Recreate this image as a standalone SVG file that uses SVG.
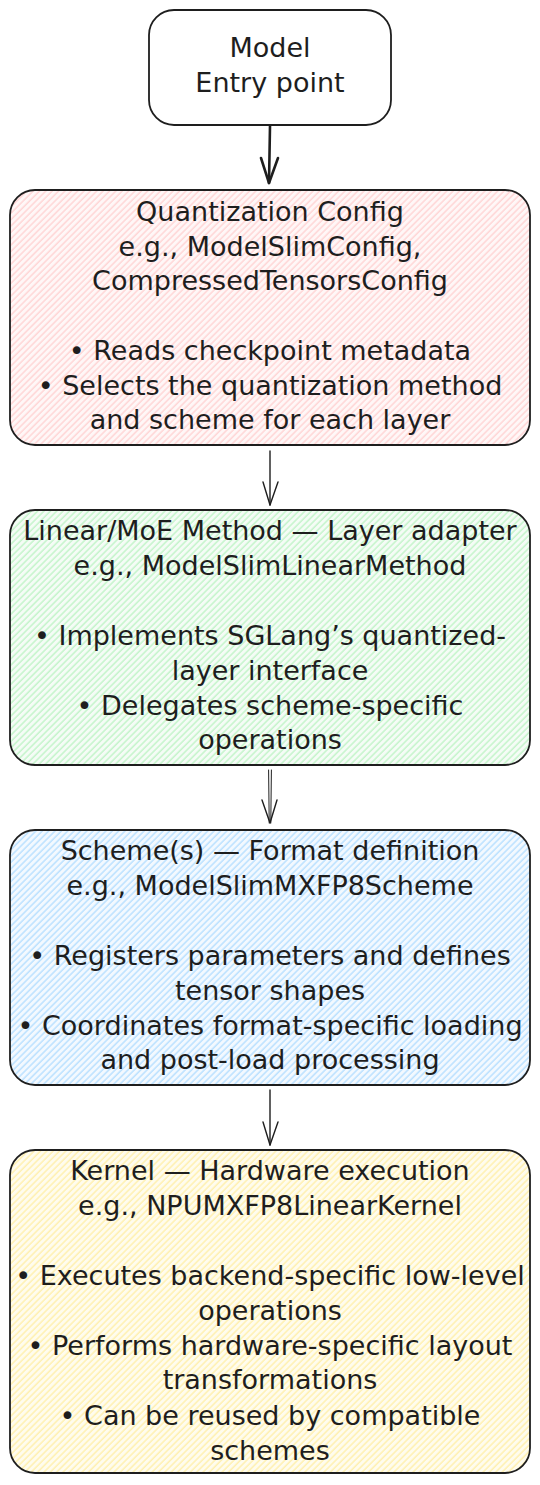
<svg xmlns="http://www.w3.org/2000/svg" width="540" height="1485" viewBox="0 0 540 1485">
  <style>
    .box { stroke: #1e1e1e; stroke-width: 1.8; }
    .lbl { font-family: "DejaVu Sans", "Noto Sans", sans-serif; font-size: 27px; fill: #1e1e1e; text-anchor: middle; }
    .conn { stroke: #1e1e1e; stroke-width: 1.4; fill: none; stroke-linecap: round; stroke-linejoin: round; }
    .thin { stroke-width: 1.0; }
    .thick { stroke-width: 2.6; }
  </style>
  <defs>
    <pattern id="hPink" patternUnits="userSpaceOnUse" width="4.5" height="4.5" patternTransform="rotate(45)">
      <rect width="4.5" height="4.5" fill="#fff7f7"/>
      <line x1="1" y1="0" x2="1" y2="4.5" stroke="#ffc9c9" stroke-width="1.1"/>
    </pattern>
    <pattern id="hGreen" patternUnits="userSpaceOnUse" width="4.5" height="4.5" patternTransform="rotate(45)">
      <rect width="4.5" height="4.5" fill="#f5fcf6"/>
      <line x1="1" y1="0" x2="1" y2="4.5" stroke="#b2f2bb" stroke-width="1.1"/>
    </pattern>
    <pattern id="hBlue" patternUnits="userSpaceOnUse" width="4.5" height="4.5" patternTransform="rotate(45)">
      <rect width="4.5" height="4.5" fill="#f3f9ff"/>
      <line x1="1" y1="0" x2="1" y2="4.5" stroke="#a5d8ff" stroke-width="1.1"/>
    </pattern>
    <pattern id="hYellow" patternUnits="userSpaceOnUse" width="4.5" height="4.5" patternTransform="rotate(45)">
      <rect width="4.5" height="4.5" fill="#fffcee"/>
      <line x1="1" y1="0" x2="1" y2="4.5" stroke="#ffec99" stroke-width="1.1"/>
    </pattern>
  </defs>
  <rect width="540" height="1485" fill="#ffffff"/>

  <g id="connectors">
    <g id="arrow-model-config">
      <line class="conn thick" x1="270" y1="126" x2="269" y2="183"/>
      <polyline class="conn thick" points="261,158 269,183 278,158"/>
    </g>
    <g id="arrow-config-method">
      <line class="conn" x1="270" y1="451" x2="270" y2="505"/>
      <polyline class="conn" points="263,482 270,505 278,482"/>
    </g>
    <g id="arrow-method-scheme">
      <line class="conn thin" x1="268.6" y1="770" x2="269.2" y2="823"/>
      <line class="conn thin" x1="271.4" y1="770" x2="270.8" y2="823"/>
      <polyline class="conn" points="262,800 270,823 277,800"/>
    </g>
    <g id="arrow-scheme-kernel">
      <line class="conn" x1="270" y1="1090" x2="270" y2="1145"/>
      <polyline class="conn" points="263,1122 270,1145 278,1122"/>
    </g>
  </g>

  <g id="node-model">
    <rect class="box" x="149" y="10" width="242" height="115" rx="25" ry="25" fill="#ffffff"/>
    <text class="lbl" x="270" y="57">Model</text>
    <text class="lbl" x="270" y="92">Entry point</text>
  </g>

  <g id="node-config">
    <rect class="box" x="10" y="190" width="520" height="255" rx="25" ry="25" fill="url(#hPink)"/>
    <text class="lbl" x="270" y="221">Quantization Config</text>
    <text class="lbl" x="270" y="256">e.g., ModelSlimConfig,</text>
    <text class="lbl" x="270" y="290">CompressedTensorsConfig</text>
    <text class="lbl" x="270" y="360">• Reads checkpoint metadata</text>
    <text class="lbl" x="270" y="395">• Selects the quantization method</text>
    <text class="lbl" x="270" y="429">and scheme for each layer</text>
  </g>

  <g id="node-method">
    <rect class="box" x="10" y="510" width="520" height="255" rx="25" ry="25" fill="url(#hGreen)"/>
    <text class="lbl" x="270" y="540">Linear/MoE Method — Layer adapter</text>
    <text class="lbl" x="270" y="575">e.g., ModelSlimLinearMethod</text>
    <text class="lbl" x="270" y="645">• Implements SGLang’s quantized-</text>
    <text class="lbl" x="270" y="680">layer interface</text>
    <text class="lbl" x="270" y="715">• Delegates scheme-specific</text>
    <text class="lbl" x="270" y="749">operations</text>
  </g>

  <g id="node-scheme">
    <rect class="box" x="10" y="830" width="520" height="255" rx="25" ry="25" fill="url(#hBlue)"/>
    <text class="lbl" x="270" y="860">Scheme(s) — Format definition</text>
    <text class="lbl" x="270" y="895">e.g., ModelSlimMXFP8Scheme</text>
    <text class="lbl" x="270" y="965">• Registers parameters and defines</text>
    <text class="lbl" x="270" y="1000">tensor shapes</text>
    <text class="lbl" x="270" y="1035">• Coordinates format-specific loading</text>
    <text class="lbl" x="270" y="1069">and post-load processing</text>
  </g>

  <g id="node-kernel">
    <rect class="box" x="10" y="1150" width="520" height="323" rx="25" ry="25" fill="url(#hYellow)"/>
    <text class="lbl" x="270" y="1180">Kernel — Hardware execution</text>
    <text class="lbl" x="270" y="1215">e.g., NPUMXFP8LinearKernel</text>
    <text class="lbl" x="270" y="1285">• Executes backend-specific low-level</text>
    <text class="lbl" x="270" y="1320">operations</text>
    <text class="lbl" x="270" y="1355">• Performs hardware-specific layout</text>
    <text class="lbl" x="270" y="1389">transformations</text>
    <text class="lbl" x="270" y="1425">• Can be reused by compatible</text>
    <text class="lbl" x="270" y="1460">schemes</text>
  </g>
</svg>
